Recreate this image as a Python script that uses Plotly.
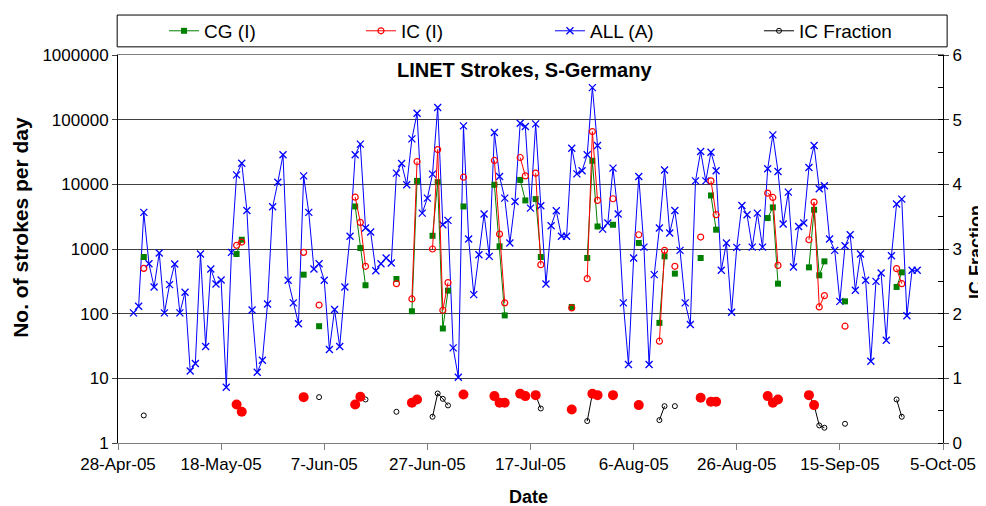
import datetime as dt
import plotly.graph_objects as go

START = dt.date(2005, 4, 28)   # first date on the x axis; days below are offsets from it

# ALL (A): total strokes per day, every day from day 3 (1-May-05) to day 155 (30-Sep-05)
all_first_day = 3
all_strokes = [
    103, 130, 3680, 593, 259, 867, 103, 281, 586, 103,
    214, 13, 17, 836, 31, 491, 288, 332, 7.3, 887,
    14000, 21200, 3950, 114, 12.4, 19, 141, 4500, 10800, 28600,
    328, 147, 70, 13500, 3680, 491, 593, 328, 28, 116,
    31, 259, 1570, 28600, 41800, 2110, 1830, 462, 593, 726,
    607, 14900, 21000, 9840, 50500, 125600, 3590, 6120, 14400, 154000,
    2370, 2770, 29.6, 10.4, 80200, 1430, 197, 817, 3470, 770,
    63200, 13200, 6120, 1240, 5440, 88100, 78200, 4290, 86000, 4660,
    288, 2290, 3900, 1570, 1570, 36200, 14500, 16200, 28600, 313000,
    39800, 2030, 2520, 17800, 3470, 147, 16.4, 726, 13200, 1070,
    16.4, 401, 2110, 16700, 1770, 3950, 953, 147, 68, 11300,
    32200, 11300, 31400, 16200, 468, 1240, 105, 1060, 4720, 3390,
    1070, 3590, 1070, 17400, 58200, 15800, 2430, 7580, 527, 2230,
    2520, 18200, 39800, 8530, 9490, 1430, 953, 155, 1120, 1660,
    230, 836, 328, 18.4, 316, 425, 38.8, 788, 4950, 5910,
    93, 468, 468,
]

# days with interferometer (I) data: CG, IC strokes and IC fraction
i_days = [5, 23, 24, 36, 39, 46, 47, 48, 54, 57, 58, 61, 62, 63, 64, 67,
          73, 74, 75, 78, 79, 81, 82, 88, 91, 92, 93, 96, 101, 105, 106, 108,
          113, 115, 116, 126, 127, 128, 134, 135, 136, 137, 141, 151, 152]
cg_strokes = [752, 836, 1390, 401, 64, 4550, 1035, 275, 344, 109, 11300, 1600, 10800, 59, 227, 4550,
              9840, 1100, 94, 11700, 5640, 5910, 752, 127, 726, 23100, 2230, 2370, 1240, 72, 770, 416,
              726, 6730, 1990, 3010, 4400, 291, 520, 4040, 392, 644, 155, 259, 436]
ic_strokes = [502, 1140, 1280, 887, 136, 6340, 2580, 540, 291, 169, 22500, 1000, 34500, 113, 302, 12900,
              23400, 1700, 147, 26000, 13500, 14900, 573, 123, 348, 65500, 5640, 5980, 1660, 37.5, 953, 540,
              1530, 11300, 3390, 7310, 6270, 558, 1390, 5310, 127, 190, 64, 497, 291]
ic_fraction = [0.426, 0.596, 0.483, 0.709, 0.709, 0.596, 0.714, 0.673, 0.483, 0.622, 0.673, 0.406, 0.766, 0.683, 0.581, 0.750,
               0.725, 0.622, 0.622, 0.761, 0.725, 0.740, 0.534, 0.519, 0.339, 0.761, 0.740, 0.740, 0.586, 0.354, 0.570, 0.570,
               0.699, 0.637, 0.637, 0.725, 0.622, 0.673, 0.740, 0.586, 0.272, 0.236, 0.297, 0.673, 0.406]

# days whose IC fraction is marked with a big red dot
red_days = [23, 24, 36, 46, 47, 57, 58, 67, 73, 74, 75, 78, 79, 81, 88,
            92, 93, 96, 101, 113, 115, 116, 126, 127, 128, 134, 135]

left_ticks = [1, 10, 100, 1000, 10000, 100000, 1000000]


def day(d):
    return (START + dt.timedelta(days=d)).isoformat()


def with_gaps(days, vals):
    # break the line wherever a day is missing
    xs, ys = [], []
    prev = None
    for d, v in zip(days, vals):
        if prev is not None and d - prev > 1:
            xs.append(None)
            ys.append(None)
        xs.append(day(d))
        ys.append(v)
        prev = d
    return xs, ys


all_x = [day(all_first_day + i) for i in range(len(all_strokes))]
cg_x, cg_y = with_gaps(i_days, cg_strokes)
ic_x, ic_y = with_gaps(i_days, ic_strokes)
fr_x, fr_y = with_gaps(i_days, ic_fraction)
frac_of = dict(zip(i_days, ic_fraction))
red_x = [day(d) for d in red_days]
red_y = [frac_of[d] for d in red_days]

fig = go.Figure()
fig.add_trace(go.Scatter(
    x=all_x, y=all_strokes, name="ALL (A)", mode="lines+markers", legend="legend3",
    line=dict(color="#0000FF", width=1),
    marker=dict(symbol="x-thin", size=7, line=dict(color="#0000FF", width=1.3))))
fig.add_trace(go.Scatter(
    x=cg_x, y=cg_y, name="CG (I)", mode="lines+markers", legend="legend",
    line=dict(color="#008000", width=1), connectgaps=False,
    marker=dict(symbol="square", size=6, color="#008000")))
fig.add_trace(go.Scatter(
    x=ic_x, y=ic_y, name="IC (I)", mode="lines+markers", legend="legend2",
    line=dict(color="#FF0000", width=1), connectgaps=False,
    marker=dict(symbol="circle-open", size=6, color="#FF0000", line=dict(width=1.2))))
fig.add_trace(go.Scatter(
    x=fr_x, y=fr_y, name="IC Fraction", mode="lines+markers", legend="legend4", yaxis="y2",
    line=dict(color="black", width=1), connectgaps=False,
    marker=dict(symbol="circle-open", size=5, color="black", line=dict(width=1))))
fig.add_trace(go.Scatter(
    x=red_x, y=red_y, mode="markers", yaxis="y2", showlegend=False,
    marker=dict(symbol="circle", size=10, color="#FF0000")))

# legend frame across the top
fig.add_shape(type="rect", xref="paper", yref="paper",
              x0=-0.001, x1=1.005, y0=1.021, y1=1.103,
              line=dict(color="black", width=1), fillcolor="white", layer="below")

leg = dict(orientation="h", yanchor="middle", y=1.062, xanchor="left",
           bgcolor="rgba(0,0,0,0)", borderwidth=0, itemwidth=30,
           font=dict(size=19))

fig.add_annotation(text="<b>LINET Strokes, S-Germany</b>", xref="paper", yref="paper",
                   x=0.493, y=0.961, xanchor="center", yanchor="middle",
                   showarrow=False, font=dict(size=20))
# axis titles
fig.add_annotation(text="<b>No. of strokes per day</b>", xref="paper", yref="paper",
                   x=-0.1176, y=0.557, xanchor="center", yanchor="middle", textangle=-90,
                   showarrow=False, font=dict(size=21))
fig.add_annotation(text="<b>IC Fraction</b>", xref="paper", yref="paper",
                   x=1.040, y=0.492, xanchor="center", yanchor="middle", textangle=-90,
                   showarrow=False, font=dict(size=18))
fig.add_annotation(text="<b>Date</b>", xref="paper", yref="paper",
                   x=0.497, y=-0.139, xanchor="center", yanchor="middle",
                   showarrow=False, font=dict(size=18))

# the page adds an 8px body margin, so the figure is 8px smaller than the window
fig.update_layout(
    width=978, height=498,
    margin=dict(l=110, r=43, t=47, b=63, autoexpand=False),
    paper_bgcolor="white", plot_bgcolor="white",
    font=dict(family="Liberation Sans, Arial, sans-serif", size=17, color="black"),
    legend=dict(leg, x=0.0558),
    legend2=dict(leg, x=0.2945),
    legend3=dict(leg, x=0.5236),
    legend4=dict(leg, x=0.777),
    xaxis=dict(
        type="date", range=[day(0), day(160)], tick0=day(0), dtick=20 * 86400000,
        tickformat="%-d-%b-%y", ticks="outside", ticklen=6, tickcolor="#808080",
        showline=True, linecolor="#808080", mirror=True, showgrid=False, zeroline=False,
    ),
    yaxis=dict(
        type="log", range=[0, 6], tickvals=left_ticks, ticktext=[str(v) for v in left_ticks],
        ticks="outside", ticklen=5, showline=True, linecolor="black",
        showgrid=True, gridcolor="#404040", gridwidth=1, zeroline=False,
    ),
    yaxis2=dict(
        overlaying="y", side="right", range=[0, 6], dtick=1,
        ticks="outside", ticklen=5, showline=True, linecolor="black",
        showgrid=False, zeroline=False,
        minor=dict(dtick=0.5, ticks="inside", ticklen=5, tickcolor="black"),
    ),
)

fig.write_html("out.html")
